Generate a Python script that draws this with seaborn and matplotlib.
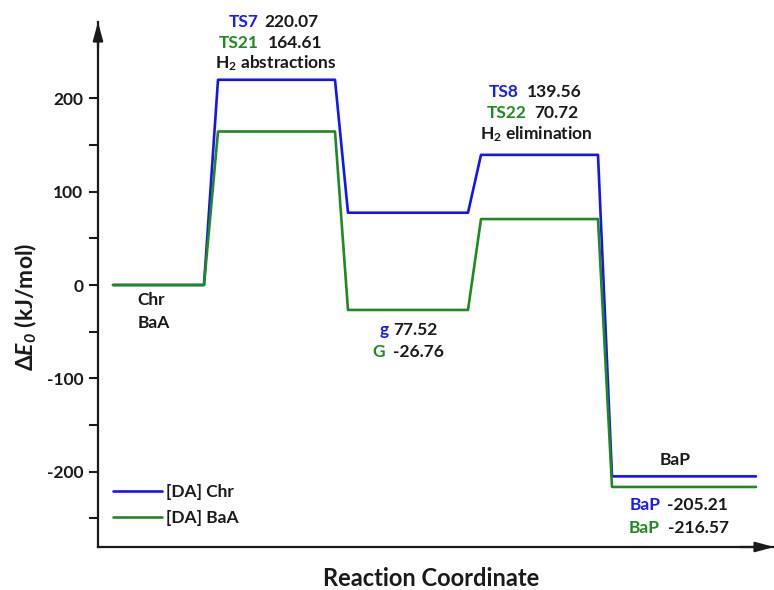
import matplotlib
matplotlib.use("Agg")
import matplotlib.pyplot as plt
from matplotlib.ticker import FixedLocator
import seaborn as sns
import pandas as pd

# ---------------- data ----------------
series_names = ["[DA] Chr", "[DA] BaA"]
chr_levels = [0.0, 220.07, 77.52, 139.56, -205.21]
baa_levels = [0.0, 164.61, -26.76, 70.72, -216.57]
chr_labels = ["Chr", "TS7", "g", "TS8", "BaP"]
baa_labels = ["BaA", "TS21", "G", "TS22", "BaP"]
step_notes = [r"H$_\mathbf{2}$ abstractions", r"H$_\mathbf{2}$ elimination"]
y_major = [-200, -100, 0, 100, 200]
y_minor = [-250, -150, -50, 50, 150]
x_title = "Reaction Coordinate"
y_title = r"Δ$\mathbfit{E}_{\mathbfit{0}}$ (kJ/mol)"

# ---------------- layout (pixel-like reaction coordinate) ----------------
stage_start = [113, 218, 348, 481, 612]
stage_end = [204, 335, 468, 598, 756]

BLUE = "#1414f5"
GREEN = "#1f8a1f"
BLUE_T = "#1a1aff"
GREEN_T = "#1e8b1e"
DARK = "#1a1a1a"
FS = 12.5

sns.set_style("ticks")
plt.rcParams["font.family"] = ["Lato", "DejaVu Sans"]
plt.rcParams["axes.unicode_minus"] = False
plt.rcParams["mathtext.fontset"] = "custom"
plt.rcParams["mathtext.rm"] = "Lato"
plt.rcParams["mathtext.bf"] = "Lato:bold"
plt.rcParams["mathtext.it"] = "Lato:italic"
try:
    plt.rcParams["mathtext.bfit"] = "Lato:italic:bold"
except KeyError:
    pass

rows = []
for name, levels in zip(series_names, [chr_levels, baa_levels]):
    for s, e, v in zip(stage_start, stage_end, levels):
        rows.append({"x": s, "y": v, "series": name})
        rows.append({"x": e, "y": v, "series": name})
df = pd.DataFrame(rows)

W, H = 774, 590
fig = plt.figure(figsize=(W / 100, H / 100), dpi=100)
ax_l, ax_r, ax_b, ax_t = 98, 774, 547, 22
ax = fig.add_axes([ax_l / W, 1 - ax_b / H, (ax_r - ax_l) / W, (ax_b - ax_t) / H])

sns.lineplot(data=df, x="x", y="y", hue="series", palette=[BLUE, GREEN],
             sort=False, estimator=None, lw=1.9, ax=ax)

ax.set_xlim(ax_l, ax_r)
ax.set_ylim((285 - ax_b) / 0.9325, (285 - ax_t) / 0.9325)

for sp in ["top", "right"]:
    ax.spines[sp].set_visible(False)
for sp in ["left", "bottom"]:
    ax.spines[sp].set_linewidth(1.6)
    ax.spines[sp].set_color(DARK)

ax.set_xticks([])
ax.yaxis.set_major_locator(FixedLocator(y_major))
ax.yaxis.set_minor_locator(FixedLocator(y_minor))
ax.tick_params(axis="y", which="both", direction="out", length=6.5, width=1.5,
               color=DARK, pad=4, labelsize=FS, labelcolor=DARK)
for lab in ax.get_yticklabels():
    lab.set_fontweight("bold")
ax.set_xlabel("")
ax.set_ylabel("")

# arrow heads on axes
arrow = dict(arrowstyle="-|>,head_length=1.1,head_width=0.3", color=DARK, lw=1.6,
             shrinkA=0, shrinkB=0)
ax.annotate("", xy=(0, 1), xytext=(0, 0.95), xycoords="axes fraction", arrowprops=arrow,
            annotation_clip=False)
ax.annotate("", xy=(1, 0), xytext=(0.95, 0), xycoords="axes fraction", arrowprops=arrow,
            annotation_clip=False)

fig.text(431 / W, 1 - 579 / H, x_title, ha="center", va="center", fontsize=17,
         fontweight="bold", color=DARK)
fig.text(26 / W, 1 - 307 / H, y_title, ha="center", va="center", rotation=90,
         fontsize=16.5, fontweight="bold", color=DARK)

inv = ax.transData.inverted()


def at(px, py):
    return inv.transform((px, H - py))


def put(px, py, s, color=DARK, ha="center"):
    x, y = at(px, py)
    ax.text(x, y, s, ha=ha, va="center", fontsize=FS, fontweight="bold", color=color)


def pair(px_right, px_left, py, lab, val, color):
    put(px_right, py, lab, color, ha="right")
    put(px_left, py, f"{val:.2f}", DARK, ha="left")


# TS7 / TS21
pair(259, 264, 22, chr_labels[1], chr_levels[1], BLUE_T)
pair(259, 268, 43, baa_labels[1], baa_levels[1], GREEN_T)
put(276, 63, step_notes[0])
# TS8 / TS22
pair(519, 527, 92, chr_labels[3], chr_levels[3], BLUE_T)
pair(527, 534, 113, baa_labels[3], baa_levels[3], GREEN_T)
put(536, 134, step_notes[1])
# reactants
put(151, 300, chr_labels[0])
put(154, 323, baa_labels[0])
# intermediates
pair(389, 393, 330, chr_labels[2], chr_levels[2], BLUE_T)
pair(385, 393, 352, baa_labels[2], baa_levels[2], GREEN_T)
# products
put(675, 460, chr_labels[4])
pair(661, 667, 505, chr_labels[4], chr_levels[4], BLUE_T)
pair(660, 668, 528, baa_labels[4], baa_levels[4], GREEN_T)

handles, labels = ax.get_legend_handles_labels()
lx, ly = (113 - ax_l) / (ax_r - ax_l), (ax_b - 484) / (ax_b - ax_t)
ax.legend(handles, labels, loc="upper left", bbox_to_anchor=(lx, ly), frameon=False,
          borderpad=0, borderaxespad=0, handlelength=2.8, handletextpad=0.25,
          labelspacing=0.6, prop={"family": ["Lato", "DejaVu Sans"], "weight": "bold", "size": FS})
for t in ax.get_legend().get_texts():
    t.set_color(DARK)

fig.savefig("out.png", dpi=100)
